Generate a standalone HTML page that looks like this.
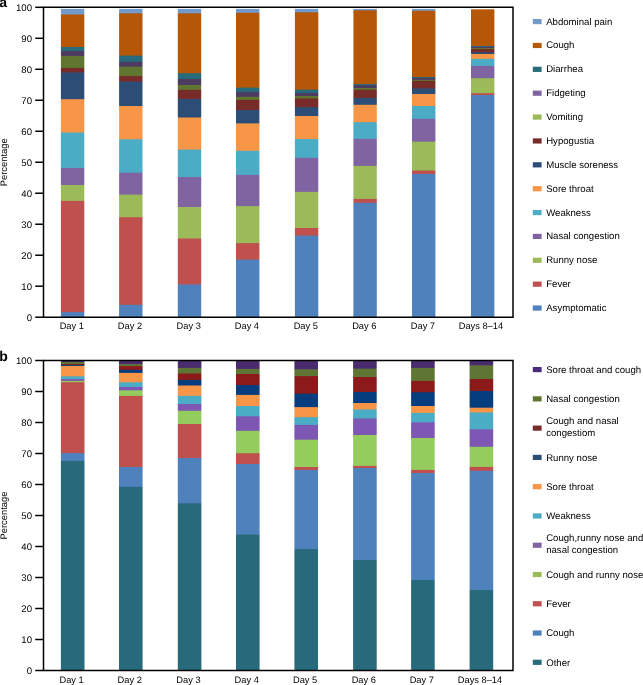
<!DOCTYPE html>
<html><head><meta charset="utf-8"><title>Symptoms by day</title>
<style>
html,body{margin:0;padding:0;background:#fff;}
body{width:643px;height:685px;overflow:hidden;}
svg{display:block;font-family:"Liberation Sans",sans-serif;fill:#000;text-rendering:geometricPrecision;will-change:transform;}
svg text{fill:#000;}
</style></head><body>
<svg width="643" height="685" viewBox="0 0 643 685">
<linearGradient id="ga0" gradientUnits="userSpaceOnUse" x1="0" y1="8.9" x2="0" y2="317.2"><stop offset="0.00000" stop-color="#729ACA"/><stop offset="0.01654" stop-color="#729ACA"/><stop offset="0.01979" stop-color="#B65708"/><stop offset="0.12196" stop-color="#B65708"/><stop offset="0.12520" stop-color="#276A7C"/><stop offset="0.13493" stop-color="#276A7C"/><stop offset="0.13818" stop-color="#4D3B62"/><stop offset="0.15083" stop-color="#4D3B62"/><stop offset="0.15407" stop-color="#5F7530"/><stop offset="0.18975" stop-color="#5F7530"/><stop offset="0.19299" stop-color="#772C2A"/><stop offset="0.20435" stop-color="#772C2A"/><stop offset="0.20759" stop-color="#2C4D75"/><stop offset="0.29127" stop-color="#2C4D75"/><stop offset="0.29452" stop-color="#F79646"/><stop offset="0.39929" stop-color="#F79646"/><stop offset="0.40253" stop-color="#4BACC6"/><stop offset="0.51411" stop-color="#4BACC6"/><stop offset="0.51735" stop-color="#8064A2"/><stop offset="0.56958" stop-color="#8064A2"/><stop offset="0.57282" stop-color="#9BBB59"/><stop offset="0.62115" stop-color="#9BBB59"/><stop offset="0.62439" stop-color="#C0504D"/><stop offset="0.98184" stop-color="#C0504D"/><stop offset="0.98508" stop-color="#4F81BD"/><stop offset="1.00000" stop-color="#4F81BD"/></linearGradient>
<rect x="60.9" y="8.9" width="23.4" height="308.3" fill="url(#ga0)"/>
<linearGradient id="ga1" gradientUnits="userSpaceOnUse" x1="0" y1="8.9" x2="0" y2="317.2"><stop offset="0.00000" stop-color="#729ACA"/><stop offset="0.01265" stop-color="#729ACA"/><stop offset="0.01589" stop-color="#B65708"/><stop offset="0.14985" stop-color="#B65708"/><stop offset="0.15310" stop-color="#276A7C"/><stop offset="0.17029" stop-color="#276A7C"/><stop offset="0.17353" stop-color="#4D3B62"/><stop offset="0.18586" stop-color="#4D3B62"/><stop offset="0.18910" stop-color="#5F7530"/><stop offset="0.21635" stop-color="#5F7530"/><stop offset="0.21959" stop-color="#772C2A"/><stop offset="0.23419" stop-color="#772C2A"/><stop offset="0.23743" stop-color="#2C4D75"/><stop offset="0.31333" stop-color="#2C4D75"/><stop offset="0.31657" stop-color="#F79646"/><stop offset="0.42134" stop-color="#F79646"/><stop offset="0.42459" stop-color="#4BACC6"/><stop offset="0.52968" stop-color="#4BACC6"/><stop offset="0.53292" stop-color="#8064A2"/><stop offset="0.60071" stop-color="#8064A2"/><stop offset="0.60396" stop-color="#9BBB59"/><stop offset="0.67402" stop-color="#9BBB59"/><stop offset="0.67726" stop-color="#C0504D"/><stop offset="0.95816" stop-color="#C0504D"/><stop offset="0.96140" stop-color="#4F81BD"/><stop offset="1.00000" stop-color="#4F81BD"/></linearGradient>
<rect x="119.1" y="8.9" width="23.4" height="308.3" fill="url(#ga1)"/>
<linearGradient id="ga2" gradientUnits="userSpaceOnUse" x1="0" y1="8.9" x2="0" y2="317.2"><stop offset="0.00000" stop-color="#729ACA"/><stop offset="0.01265" stop-color="#729ACA"/><stop offset="0.01589" stop-color="#B65708"/><stop offset="0.20694" stop-color="#B65708"/><stop offset="0.21018" stop-color="#276A7C"/><stop offset="0.22575" stop-color="#276A7C"/><stop offset="0.22900" stop-color="#4D3B62"/><stop offset="0.24522" stop-color="#4D3B62"/><stop offset="0.24846" stop-color="#5F7530"/><stop offset="0.26078" stop-color="#5F7530"/><stop offset="0.26403" stop-color="#772C2A"/><stop offset="0.29030" stop-color="#772C2A"/><stop offset="0.29355" stop-color="#2C4D75"/><stop offset="0.35063" stop-color="#2C4D75"/><stop offset="0.35388" stop-color="#F79646"/><stop offset="0.45475" stop-color="#F79646"/><stop offset="0.45800" stop-color="#4BACC6"/><stop offset="0.54363" stop-color="#4BACC6"/><stop offset="0.54687" stop-color="#8064A2"/><stop offset="0.64093" stop-color="#8064A2"/><stop offset="0.64418" stop-color="#9BBB59"/><stop offset="0.74311" stop-color="#9BBB59"/><stop offset="0.74635" stop-color="#C0504D"/><stop offset="0.89199" stop-color="#C0504D"/><stop offset="0.89523" stop-color="#4F81BD"/><stop offset="1.00000" stop-color="#4F81BD"/></linearGradient>
<rect x="177.8" y="8.9" width="23.4" height="308.3" fill="url(#ga2)"/>
<linearGradient id="ga3" gradientUnits="userSpaceOnUse" x1="0" y1="8.9" x2="0" y2="317.2"><stop offset="0.00000" stop-color="#729ACA"/><stop offset="0.01103" stop-color="#729ACA"/><stop offset="0.01427" stop-color="#B65708"/><stop offset="0.25365" stop-color="#B65708"/><stop offset="0.25689" stop-color="#276A7C"/><stop offset="0.26825" stop-color="#276A7C"/><stop offset="0.27149" stop-color="#4D3B62"/><stop offset="0.28349" stop-color="#4D3B62"/><stop offset="0.28673" stop-color="#5F7530"/><stop offset="0.29355" stop-color="#5F7530"/><stop offset="0.29679" stop-color="#772C2A"/><stop offset="0.32631" stop-color="#772C2A"/><stop offset="0.32955" stop-color="#2C4D75"/><stop offset="0.36977" stop-color="#2C4D75"/><stop offset="0.37301" stop-color="#F79646"/><stop offset="0.45864" stop-color="#F79646"/><stop offset="0.46189" stop-color="#4BACC6"/><stop offset="0.53681" stop-color="#4BACC6"/><stop offset="0.54006" stop-color="#8064A2"/><stop offset="0.63801" stop-color="#8064A2"/><stop offset="0.64126" stop-color="#9BBB59"/><stop offset="0.75803" stop-color="#9BBB59"/><stop offset="0.76127" stop-color="#C0504D"/><stop offset="0.81155" stop-color="#C0504D"/><stop offset="0.81479" stop-color="#4F81BD"/><stop offset="1.00000" stop-color="#4F81BD"/></linearGradient>
<rect x="236" y="8.9" width="23.4" height="308.3" fill="url(#ga3)"/>
<linearGradient id="ga4" gradientUnits="userSpaceOnUse" x1="0" y1="8.9" x2="0" y2="317.2"><stop offset="0.00000" stop-color="#729ACA"/><stop offset="0.00941" stop-color="#729ACA"/><stop offset="0.01265" stop-color="#B65708"/><stop offset="0.26014" stop-color="#B65708"/><stop offset="0.26338" stop-color="#276A7C"/><stop offset="0.27116" stop-color="#276A7C"/><stop offset="0.27441" stop-color="#4D3B62"/><stop offset="0.28090" stop-color="#4D3B62"/><stop offset="0.28414" stop-color="#5F7530"/><stop offset="0.28868" stop-color="#5F7530"/><stop offset="0.29192" stop-color="#772C2A"/><stop offset="0.31722" stop-color="#772C2A"/><stop offset="0.32047" stop-color="#2C4D75"/><stop offset="0.34577" stop-color="#2C4D75"/><stop offset="0.34901" stop-color="#F79646"/><stop offset="0.42037" stop-color="#F79646"/><stop offset="0.42361" stop-color="#4BACC6"/><stop offset="0.48135" stop-color="#4BACC6"/><stop offset="0.48459" stop-color="#8064A2"/><stop offset="0.59196" stop-color="#8064A2"/><stop offset="0.59520" stop-color="#9BBB59"/><stop offset="0.70905" stop-color="#9BBB59"/><stop offset="0.71229" stop-color="#C0504D"/><stop offset="0.73370" stop-color="#C0504D"/><stop offset="0.73694" stop-color="#4F81BD"/><stop offset="1.00000" stop-color="#4F81BD"/></linearGradient>
<rect x="294.9" y="8.9" width="23.4" height="308.3" fill="url(#ga4)"/>
<linearGradient id="ga5" gradientUnits="userSpaceOnUse" x1="0" y1="8.9" x2="0" y2="317.2"><stop offset="0.00000" stop-color="#729ACA"/><stop offset="0.00292" stop-color="#729ACA"/><stop offset="0.00616" stop-color="#B65708"/><stop offset="0.24197" stop-color="#B65708"/><stop offset="0.24522" stop-color="#276A7C"/><stop offset="0.24586" stop-color="#276A7C"/><stop offset="0.24911" stop-color="#4D3B62"/><stop offset="0.25495" stop-color="#4D3B62"/><stop offset="0.25819" stop-color="#5F7530"/><stop offset="0.26046" stop-color="#5F7530"/><stop offset="0.26370" stop-color="#772C2A"/><stop offset="0.28738" stop-color="#772C2A"/><stop offset="0.29063" stop-color="#2C4D75"/><stop offset="0.30944" stop-color="#2C4D75"/><stop offset="0.31268" stop-color="#F79646"/><stop offset="0.36588" stop-color="#F79646"/><stop offset="0.36912" stop-color="#4BACC6"/><stop offset="0.41972" stop-color="#4BACC6"/><stop offset="0.42296" stop-color="#8064A2"/><stop offset="0.50762" stop-color="#8064A2"/><stop offset="0.51087" stop-color="#9BBB59"/><stop offset="0.61466" stop-color="#9BBB59"/><stop offset="0.61790" stop-color="#C0504D"/><stop offset="0.62731" stop-color="#C0504D"/><stop offset="0.63055" stop-color="#4F81BD"/><stop offset="1.00000" stop-color="#4F81BD"/></linearGradient>
<rect x="353.4" y="8.9" width="23.4" height="308.3" fill="url(#ga5)"/>
<linearGradient id="ga6" gradientUnits="userSpaceOnUse" x1="0" y1="8.9" x2="0" y2="317.2"><stop offset="0.00000" stop-color="#729ACA"/><stop offset="0.00454" stop-color="#729ACA"/><stop offset="0.00778" stop-color="#B65708"/><stop offset="0.21927" stop-color="#B65708"/><stop offset="0.22219" stop-color="#276A7C"/><stop offset="0.22219" stop-color="#276A7C"/><stop offset="0.22511" stop-color="#4D3B62"/><stop offset="0.22835" stop-color="#4D3B62"/><stop offset="0.23159" stop-color="#5F7530"/><stop offset="0.23192" stop-color="#5F7530"/><stop offset="0.23516" stop-color="#772C2A"/><stop offset="0.25624" stop-color="#772C2A"/><stop offset="0.25949" stop-color="#2C4D75"/><stop offset="0.27441" stop-color="#2C4D75"/><stop offset="0.27765" stop-color="#F79646"/><stop offset="0.31333" stop-color="#F79646"/><stop offset="0.31657" stop-color="#4BACC6"/><stop offset="0.35485" stop-color="#4BACC6"/><stop offset="0.35809" stop-color="#8064A2"/><stop offset="0.42913" stop-color="#8064A2"/><stop offset="0.43237" stop-color="#9BBB59"/><stop offset="0.52254" stop-color="#9BBB59"/><stop offset="0.52579" stop-color="#C0504D"/><stop offset="0.53357" stop-color="#C0504D"/><stop offset="0.53681" stop-color="#4F81BD"/><stop offset="1.00000" stop-color="#4F81BD"/></linearGradient>
<rect x="412" y="8.9" width="23.4" height="308.3" fill="url(#ga6)"/>
<linearGradient id="ga7" gradientUnits="userSpaceOnUse" x1="0" y1="9.3" x2="0" y2="317.2"><stop offset="0.00000" stop-color="#B65708"/><stop offset="0.11790" stop-color="#B65708"/><stop offset="0.12049" stop-color="#276A7C"/><stop offset="0.12049" stop-color="#276A7C"/><stop offset="0.12309" stop-color="#4D3B62"/><stop offset="0.12504" stop-color="#4D3B62"/><stop offset="0.12731" stop-color="#5F7530"/><stop offset="0.12731" stop-color="#5F7530"/><stop offset="0.12959" stop-color="#772C2A"/><stop offset="0.13771" stop-color="#772C2A"/><stop offset="0.14095" stop-color="#2C4D75"/><stop offset="0.14355" stop-color="#2C4D75"/><stop offset="0.14680" stop-color="#F79646"/><stop offset="0.15914" stop-color="#F79646"/><stop offset="0.16239" stop-color="#4BACC6"/><stop offset="0.18220" stop-color="#4BACC6"/><stop offset="0.18545" stop-color="#8064A2"/><stop offset="0.22215" stop-color="#8064A2"/><stop offset="0.22540" stop-color="#9BBB59"/><stop offset="0.27087" stop-color="#9BBB59"/><stop offset="0.27411" stop-color="#C0504D"/><stop offset="0.27671" stop-color="#C0504D"/><stop offset="0.27996" stop-color="#4F81BD"/><stop offset="1.00000" stop-color="#4F81BD"/></linearGradient>
<rect x="471" y="9.3" width="23.4" height="307.9" fill="url(#ga7)"/>
<path d="M43.5 7.3H513V317.2H43.5Z" fill="none" stroke="#000" stroke-width="1.5"/>
<path d="M35.2 317.2H43.5" stroke="#000" stroke-width="1.5"/>
<text x="32" y="320.6" font-size="9.6" text-anchor="end">0</text>
<path d="M35.2 286.21H43.5" stroke="#000" stroke-width="1.5"/>
<text x="32" y="289.61" font-size="9.6" text-anchor="end">10</text>
<path d="M35.2 255.22H43.5" stroke="#000" stroke-width="1.5"/>
<text x="32" y="258.62" font-size="9.6" text-anchor="end">20</text>
<path d="M35.2 224.23H43.5" stroke="#000" stroke-width="1.5"/>
<text x="32" y="227.63" font-size="9.6" text-anchor="end">30</text>
<path d="M35.2 193.24H43.5" stroke="#000" stroke-width="1.5"/>
<text x="32" y="196.64" font-size="9.6" text-anchor="end">40</text>
<path d="M35.2 162.25H43.5" stroke="#000" stroke-width="1.5"/>
<text x="32" y="165.65" font-size="9.6" text-anchor="end">50</text>
<path d="M35.2 131.26H43.5" stroke="#000" stroke-width="1.5"/>
<text x="32" y="134.66" font-size="9.6" text-anchor="end">60</text>
<path d="M35.2 100.27H43.5" stroke="#000" stroke-width="1.5"/>
<text x="32" y="103.67" font-size="9.6" text-anchor="end">70</text>
<path d="M35.2 69.28H43.5" stroke="#000" stroke-width="1.5"/>
<text x="32" y="72.68" font-size="9.6" text-anchor="end">80</text>
<path d="M35.2 38.29H43.5" stroke="#000" stroke-width="1.5"/>
<text x="32" y="41.69" font-size="9.6" text-anchor="end">90</text>
<path d="M35.2 7.3H43.5" stroke="#000" stroke-width="1.5"/>
<text x="32" y="10.7" font-size="9.6" text-anchor="end">100</text>
<text transform="translate(7.4 162.25) rotate(-90)" font-size="9.4" text-anchor="middle">Percentage</text>
<text x="71.8" y="328.8" font-size="9.3" text-anchor="middle">Day 1</text>
<text x="130" y="328.8" font-size="9.3" text-anchor="middle">Day 2</text>
<text x="188.7" y="328.8" font-size="9.3" text-anchor="middle">Day 3</text>
<text x="246.9" y="328.8" font-size="9.3" text-anchor="middle">Day 4</text>
<text x="305.8" y="328.8" font-size="9.3" text-anchor="middle">Day 5</text>
<text x="364.3" y="328.8" font-size="9.3" text-anchor="middle">Day 6</text>
<text x="422.9" y="328.8" font-size="9.3" text-anchor="middle">Day 7</text>
<text x="480.9" y="328.8" font-size="9.3" text-anchor="middle">Days 8–14</text>
<text x="-0.7" y="7.2" font-size="14" font-weight="bold">a</text>
<linearGradient id="gb0" gradientUnits="userSpaceOnUse" x1="0" y1="361" x2="0" y2="670.5"><stop offset="0.00000" stop-color="#4A2B6E"/><stop offset="0.00162" stop-color="#4A2B6E"/><stop offset="0.00485" stop-color="#5E7533"/><stop offset="0.00808" stop-color="#5E7533"/><stop offset="0.01099" stop-color="#8C1A1A"/><stop offset="0.01099" stop-color="#8C1A1A"/><stop offset="0.01389" stop-color="#053D7E"/><stop offset="0.01422" stop-color="#053D7E"/><stop offset="0.01745" stop-color="#F79646"/><stop offset="0.04782" stop-color="#F79646"/><stop offset="0.05105" stop-color="#4BACC6"/><stop offset="0.05687" stop-color="#4BACC6"/><stop offset="0.06010" stop-color="#7D57B3"/><stop offset="0.06268" stop-color="#7D57B3"/><stop offset="0.06591" stop-color="#94CC5E"/><stop offset="0.06688" stop-color="#94CC5E"/><stop offset="0.07011" stop-color="#C0504D"/><stop offset="0.29596" stop-color="#C0504D"/><stop offset="0.29919" stop-color="#4F81BD"/><stop offset="0.32116" stop-color="#4F81BD"/><stop offset="0.32439" stop-color="#276A7C"/><stop offset="1.00000" stop-color="#276A7C"/></linearGradient>
<rect x="60.9" y="361" width="23.6" height="309.5" fill="url(#gb0)"/>
<linearGradient id="gb1" gradientUnits="userSpaceOnUse" x1="0" y1="361" x2="0" y2="670.5"><stop offset="0.00000" stop-color="#4A2B6E"/><stop offset="0.00840" stop-color="#4A2B6E"/><stop offset="0.01163" stop-color="#5E7533"/><stop offset="0.01486" stop-color="#5E7533"/><stop offset="0.01809" stop-color="#8C1A1A"/><stop offset="0.02682" stop-color="#8C1A1A"/><stop offset="0.03005" stop-color="#053D7E"/><stop offset="0.03683" stop-color="#053D7E"/><stop offset="0.04006" stop-color="#F79646"/><stop offset="0.06721" stop-color="#F79646"/><stop offset="0.07044" stop-color="#4BACC6"/><stop offset="0.08239" stop-color="#4BACC6"/><stop offset="0.08562" stop-color="#7D57B3"/><stop offset="0.09305" stop-color="#7D57B3"/><stop offset="0.09628" stop-color="#94CC5E"/><stop offset="0.11115" stop-color="#94CC5E"/><stop offset="0.11438" stop-color="#C0504D"/><stop offset="0.34055" stop-color="#C0504D"/><stop offset="0.34378" stop-color="#4F81BD"/><stop offset="0.40517" stop-color="#4F81BD"/><stop offset="0.40840" stop-color="#276A7C"/><stop offset="1.00000" stop-color="#276A7C"/></linearGradient>
<rect x="119" y="361" width="23.6" height="309.5" fill="url(#gb1)"/>
<linearGradient id="gb2" gradientUnits="userSpaceOnUse" x1="0" y1="361" x2="0" y2="670.5"><stop offset="0.00000" stop-color="#4A2B6E"/><stop offset="0.02068" stop-color="#4A2B6E"/><stop offset="0.02391" stop-color="#5E7533"/><stop offset="0.03877" stop-color="#5E7533"/><stop offset="0.04200" stop-color="#8C1A1A"/><stop offset="0.05945" stop-color="#8C1A1A"/><stop offset="0.06268" stop-color="#053D7E"/><stop offset="0.07754" stop-color="#053D7E"/><stop offset="0.08078" stop-color="#F79646"/><stop offset="0.11082" stop-color="#F79646"/><stop offset="0.11405" stop-color="#4BACC6"/><stop offset="0.13732" stop-color="#4BACC6"/><stop offset="0.14055" stop-color="#7D57B3"/><stop offset="0.15929" stop-color="#7D57B3"/><stop offset="0.16252" stop-color="#94CC5E"/><stop offset="0.20194" stop-color="#94CC5E"/><stop offset="0.20517" stop-color="#C0504D"/><stop offset="0.31179" stop-color="#C0504D"/><stop offset="0.31502" stop-color="#4F81BD"/><stop offset="0.45816" stop-color="#4F81BD"/><stop offset="0.46139" stop-color="#276A7C"/><stop offset="1.00000" stop-color="#276A7C"/></linearGradient>
<rect x="177.8" y="361" width="23.6" height="309.5" fill="url(#gb2)"/>
<linearGradient id="gb3" gradientUnits="userSpaceOnUse" x1="0" y1="361" x2="0" y2="670.5"><stop offset="0.00000" stop-color="#4A2B6E"/><stop offset="0.02391" stop-color="#4A2B6E"/><stop offset="0.02714" stop-color="#5E7533"/><stop offset="0.04039" stop-color="#5E7533"/><stop offset="0.04362" stop-color="#8C1A1A"/><stop offset="0.07593" stop-color="#8C1A1A"/><stop offset="0.07916" stop-color="#053D7E"/><stop offset="0.10792" stop-color="#053D7E"/><stop offset="0.11115" stop-color="#F79646"/><stop offset="0.14378" stop-color="#F79646"/><stop offset="0.14701" stop-color="#4BACC6"/><stop offset="0.17706" stop-color="#4BACC6"/><stop offset="0.18029" stop-color="#7D57B3"/><stop offset="0.22391" stop-color="#7D57B3"/><stop offset="0.22714" stop-color="#94CC5E"/><stop offset="0.29628" stop-color="#94CC5E"/><stop offset="0.29952" stop-color="#C0504D"/><stop offset="0.33118" stop-color="#C0504D"/><stop offset="0.33441" stop-color="#4F81BD"/><stop offset="0.55929" stop-color="#4F81BD"/><stop offset="0.56252" stop-color="#276A7C"/><stop offset="1.00000" stop-color="#276A7C"/></linearGradient>
<rect x="236" y="361" width="23.6" height="309.5" fill="url(#gb3)"/>
<linearGradient id="gb4" gradientUnits="userSpaceOnUse" x1="0" y1="361" x2="0" y2="670.5"><stop offset="0.00000" stop-color="#4A2B6E"/><stop offset="0.02520" stop-color="#4A2B6E"/><stop offset="0.02843" stop-color="#5E7533"/><stop offset="0.04717" stop-color="#5E7533"/><stop offset="0.05040" stop-color="#8C1A1A"/><stop offset="0.10404" stop-color="#8C1A1A"/><stop offset="0.10727" stop-color="#053D7E"/><stop offset="0.14733" stop-color="#053D7E"/><stop offset="0.15057" stop-color="#F79646"/><stop offset="0.17997" stop-color="#F79646"/><stop offset="0.18320" stop-color="#4BACC6"/><stop offset="0.20485" stop-color="#4BACC6"/><stop offset="0.20808" stop-color="#7D57B3"/><stop offset="0.25267" stop-color="#7D57B3"/><stop offset="0.25590" stop-color="#94CC5E"/><stop offset="0.34087" stop-color="#94CC5E"/><stop offset="0.34410" stop-color="#C0504D"/><stop offset="0.35057" stop-color="#C0504D"/><stop offset="0.35380" stop-color="#4F81BD"/><stop offset="0.60614" stop-color="#4F81BD"/><stop offset="0.60937" stop-color="#276A7C"/><stop offset="1.00000" stop-color="#276A7C"/></linearGradient>
<rect x="294.4" y="361" width="23.6" height="309.5" fill="url(#gb4)"/>
<linearGradient id="gb5" gradientUnits="userSpaceOnUse" x1="0" y1="361" x2="0" y2="670.5"><stop offset="0.00000" stop-color="#4A2B6E"/><stop offset="0.02326" stop-color="#4A2B6E"/><stop offset="0.02649" stop-color="#5E7533"/><stop offset="0.05008" stop-color="#5E7533"/><stop offset="0.05331" stop-color="#8C1A1A"/><stop offset="0.09855" stop-color="#8C1A1A"/><stop offset="0.10178" stop-color="#053D7E"/><stop offset="0.13409" stop-color="#053D7E"/><stop offset="0.13732" stop-color="#F79646"/><stop offset="0.15509" stop-color="#F79646"/><stop offset="0.15832" stop-color="#4BACC6"/><stop offset="0.18417" stop-color="#4BACC6"/><stop offset="0.18740" stop-color="#7D57B3"/><stop offset="0.23748" stop-color="#7D57B3"/><stop offset="0.24071" stop-color="#94CC5E"/><stop offset="0.33732" stop-color="#94CC5E"/><stop offset="0.34055" stop-color="#C0504D"/><stop offset="0.34410" stop-color="#C0504D"/><stop offset="0.34733" stop-color="#4F81BD"/><stop offset="0.64136" stop-color="#4F81BD"/><stop offset="0.64459" stop-color="#276A7C"/><stop offset="1.00000" stop-color="#276A7C"/></linearGradient>
<rect x="353.1" y="361" width="23.6" height="309.5" fill="url(#gb5)"/>
<linearGradient id="gb6" gradientUnits="userSpaceOnUse" x1="0" y1="361" x2="0" y2="670.5"><stop offset="0.00000" stop-color="#4A2B6E"/><stop offset="0.02068" stop-color="#4A2B6E"/><stop offset="0.02391" stop-color="#5E7533"/><stop offset="0.06268" stop-color="#5E7533"/><stop offset="0.06591" stop-color="#8C1A1A"/><stop offset="0.09952" stop-color="#8C1A1A"/><stop offset="0.10275" stop-color="#053D7E"/><stop offset="0.14378" stop-color="#053D7E"/><stop offset="0.14701" stop-color="#F79646"/><stop offset="0.16607" stop-color="#F79646"/><stop offset="0.16931" stop-color="#4BACC6"/><stop offset="0.19645" stop-color="#4BACC6"/><stop offset="0.19968" stop-color="#7D57B3"/><stop offset="0.24717" stop-color="#7D57B3"/><stop offset="0.25040" stop-color="#94CC5E"/><stop offset="0.35024" stop-color="#94CC5E"/><stop offset="0.35347" stop-color="#C0504D"/><stop offset="0.36026" stop-color="#C0504D"/><stop offset="0.36349" stop-color="#4F81BD"/><stop offset="0.70598" stop-color="#4F81BD"/><stop offset="0.70921" stop-color="#276A7C"/><stop offset="1.00000" stop-color="#276A7C"/></linearGradient>
<rect x="411.1" y="361" width="23.6" height="309.5" fill="url(#gb6)"/>
<linearGradient id="gb7" gradientUnits="userSpaceOnUse" x1="0" y1="361" x2="0" y2="670.5"><stop offset="0.00000" stop-color="#4A2B6E"/><stop offset="0.01228" stop-color="#4A2B6E"/><stop offset="0.01551" stop-color="#5E7533"/><stop offset="0.05654" stop-color="#5E7533"/><stop offset="0.05977" stop-color="#8C1A1A"/><stop offset="0.09532" stop-color="#8C1A1A"/><stop offset="0.09855" stop-color="#053D7E"/><stop offset="0.14927" stop-color="#053D7E"/><stop offset="0.15250" stop-color="#F79646"/><stop offset="0.16446" stop-color="#F79646"/><stop offset="0.16769" stop-color="#4BACC6"/><stop offset="0.21906" stop-color="#4BACC6"/><stop offset="0.22229" stop-color="#7D57B3"/><stop offset="0.27561" stop-color="#7D57B3"/><stop offset="0.27884" stop-color="#94CC5E"/><stop offset="0.34055" stop-color="#94CC5E"/><stop offset="0.34378" stop-color="#C0504D"/><stop offset="0.35315" stop-color="#C0504D"/><stop offset="0.35638" stop-color="#4F81BD"/><stop offset="0.73829" stop-color="#4F81BD"/><stop offset="0.74152" stop-color="#276A7C"/><stop offset="1.00000" stop-color="#276A7C"/></linearGradient>
<rect x="469.6" y="361" width="23.6" height="309.5" fill="url(#gb7)"/>
<path d="M43.5 360.5H513V670.5H43.5Z" fill="none" stroke="#000" stroke-width="1.5"/>
<path d="M35.2 670.5H43.5" stroke="#000" stroke-width="1.5"/>
<text x="32" y="673.9" font-size="9.6" text-anchor="end">0</text>
<path d="M35.2 639.5H43.5" stroke="#000" stroke-width="1.5"/>
<text x="32" y="642.9" font-size="9.6" text-anchor="end">10</text>
<path d="M35.2 608.5H43.5" stroke="#000" stroke-width="1.5"/>
<text x="32" y="611.9" font-size="9.6" text-anchor="end">20</text>
<path d="M35.2 577.5H43.5" stroke="#000" stroke-width="1.5"/>
<text x="32" y="580.9" font-size="9.6" text-anchor="end">30</text>
<path d="M35.2 546.5H43.5" stroke="#000" stroke-width="1.5"/>
<text x="32" y="549.9" font-size="9.6" text-anchor="end">40</text>
<path d="M35.2 515.5H43.5" stroke="#000" stroke-width="1.5"/>
<text x="32" y="518.9" font-size="9.6" text-anchor="end">50</text>
<path d="M35.2 484.5H43.5" stroke="#000" stroke-width="1.5"/>
<text x="32" y="487.9" font-size="9.6" text-anchor="end">60</text>
<path d="M35.2 453.5H43.5" stroke="#000" stroke-width="1.5"/>
<text x="32" y="456.9" font-size="9.6" text-anchor="end">70</text>
<path d="M35.2 422.5H43.5" stroke="#000" stroke-width="1.5"/>
<text x="32" y="425.9" font-size="9.6" text-anchor="end">80</text>
<path d="M35.2 391.5H43.5" stroke="#000" stroke-width="1.5"/>
<text x="32" y="394.9" font-size="9.6" text-anchor="end">90</text>
<path d="M35.2 360.5H43.5" stroke="#000" stroke-width="1.5"/>
<text x="32" y="363.9" font-size="9.6" text-anchor="end">100</text>
<text transform="translate(7.4 515.5) rotate(-90)" font-size="9.4" text-anchor="middle">Percentage</text>
<text x="71.6" y="682.5" font-size="9.3" text-anchor="middle">Day 1</text>
<text x="129.7" y="682.5" font-size="9.3" text-anchor="middle">Day 2</text>
<text x="188.5" y="682.5" font-size="9.3" text-anchor="middle">Day 3</text>
<text x="246.7" y="682.5" font-size="9.3" text-anchor="middle">Day 4</text>
<text x="305.1" y="682.5" font-size="9.3" text-anchor="middle">Day 5</text>
<text x="363.8" y="682.5" font-size="9.3" text-anchor="middle">Day 6</text>
<text x="421.8" y="682.5" font-size="9.3" text-anchor="middle">Day 7</text>
<text x="480" y="682.5" font-size="9.3" text-anchor="middle">Days 8–14</text>
<text x="-0.7" y="361.1" font-size="14" font-weight="bold">b</text>
<rect x="532.8" y="19" width="8.8" height="5.2" fill="#729ACA"/>
<text x="546.2" y="24.6" font-size="9.6">Abdominal pain</text>
<rect x="532.8" y="42.87" width="8.8" height="5.2" fill="#B65708"/>
<text x="546.2" y="48.47" font-size="9.6">Cough</text>
<rect x="532.8" y="66.74" width="8.8" height="5.2" fill="#276A7C"/>
<text x="546.2" y="72.34" font-size="9.6">Diarrhea</text>
<rect x="532.8" y="90.61" width="8.8" height="5.2" fill="#8064A2"/>
<text x="546.2" y="96.21" font-size="9.6">Fidgeting</text>
<rect x="532.8" y="114.48" width="8.8" height="5.2" fill="#9BBB59"/>
<text x="546.2" y="120.08" font-size="9.6">Vomiting</text>
<rect x="532.8" y="138.35" width="8.8" height="5.2" fill="#772C2A"/>
<text x="546.2" y="143.95" font-size="9.6">Hypogustia</text>
<rect x="532.8" y="162.22" width="8.8" height="5.2" fill="#2C4D75"/>
<text x="546.2" y="167.82" font-size="9.6">Muscle soreness</text>
<rect x="532.8" y="186.09" width="8.8" height="5.2" fill="#F79646"/>
<text x="546.2" y="191.69" font-size="9.6">Sore throat</text>
<rect x="532.8" y="209.96" width="8.8" height="5.2" fill="#4BACC6"/>
<text x="546.2" y="215.56" font-size="9.6">Weakness</text>
<rect x="532.8" y="233.83" width="8.8" height="5.2" fill="#8064A2"/>
<text x="546.2" y="239.43" font-size="9.6">Nasal congestion</text>
<rect x="532.8" y="257.7" width="8.8" height="5.2" fill="#9BBB59"/>
<text x="546.2" y="263.3" font-size="9.6">Runny nose</text>
<rect x="532.8" y="281.57" width="8.8" height="5.2" fill="#C0504D"/>
<text x="546.2" y="287.17" font-size="9.6">Fever</text>
<rect x="532.8" y="305.44" width="8.8" height="5.2" fill="#4F81BD"/>
<text x="546.2" y="311.04" font-size="9.6">Asymptomatic</text>
<rect x="532.8" y="367" width="8.8" height="5.2" fill="#4A2C7C"/>
<text x="546.2" y="372.9" font-size="9.6">Sore throat and cough</text>
<rect x="532.8" y="396.27" width="8.8" height="5.2" fill="#5F7530"/>
<text x="546.2" y="402.17" font-size="9.6">Nasal congestion</text>
<rect x="532.8" y="425.54" width="8.8" height="5.2" fill="#772C2A"/>
<text x="546.2" y="423.84" font-size="9.6">Cough and nasal</text>
<text x="546.2" y="435.84" font-size="9.6">congestiom</text>
<rect x="532.8" y="454.81" width="8.8" height="5.2" fill="#2C4D75"/>
<text x="546.2" y="460.71" font-size="9.6">Runny nose</text>
<rect x="532.8" y="484.08" width="8.8" height="5.2" fill="#F79646"/>
<text x="546.2" y="489.98" font-size="9.6">Sore throat</text>
<rect x="532.8" y="513.35" width="8.8" height="5.2" fill="#4BACC6"/>
<text x="546.2" y="519.25" font-size="9.6">Weakness</text>
<rect x="532.8" y="542.62" width="8.8" height="5.2" fill="#8064A2"/>
<text x="546.2" y="540.92" font-size="9.6">Cough,runny nose and</text>
<text x="546.2" y="552.92" font-size="9.6">nasal congestion</text>
<rect x="532.8" y="571.89" width="8.8" height="5.2" fill="#9BBB59"/>
<text x="546.2" y="577.79" font-size="9.6">Cough and runny nose</text>
<rect x="532.8" y="601.16" width="8.8" height="5.2" fill="#C0504D"/>
<text x="546.2" y="607.06" font-size="9.6">Fever</text>
<rect x="532.8" y="630.43" width="8.8" height="5.2" fill="#4F81BD"/>
<text x="546.2" y="636.33" font-size="9.6">Cough</text>
<rect x="532.8" y="659.7" width="8.8" height="5.2" fill="#276A7C"/>
<text x="546.2" y="665.6" font-size="9.6">Other</text>
</svg>
</body></html>
